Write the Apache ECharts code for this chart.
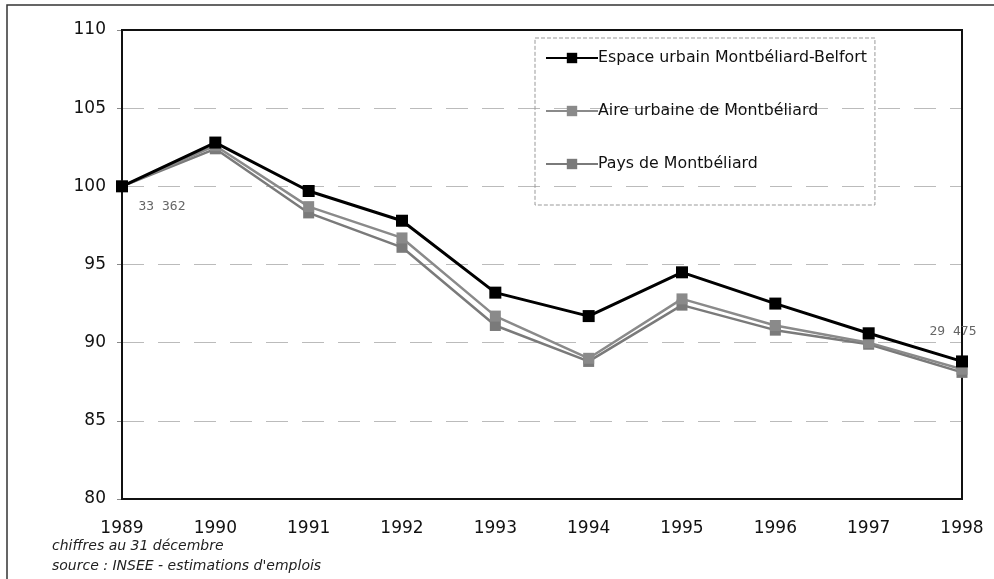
<!DOCTYPE html>
<html>
<head>
    <meta charset="utf-8">
    <title>Emploi - Montbéliard</title>
    <script src="https://cdn.jsdelivr.net/npm/echarts@6/dist/echarts.min.js"></script>
    <style>
        html, body { margin: 0; padding: 0; background: #fff; }
        #chart1 { width: 994px; height: 579px; }
    </style>
</head>
<body>
<div id="chart1"></div>
<script type="text/javascript">
    // données (indice base 100 en 1989)
    var years = ['1989', '1990', '1991', '1992', '1993', '1994', '1995', '1996', '1997', '1998'];
    var espaceUrbain = [100, 102.8, 99.7, 97.8, 93.2, 91.7, 94.5, 92.5, 90.6, 88.8];
    var aireUrbaine = [100, 102.6, 98.7, 96.7, 91.7, 89.0, 92.8, 91.1, 90.0, 88.3];
    var paysMontbeliard = [100, 102.4, 98.3, 96.1, 91.1, 88.8, 92.4, 90.8, 89.9, 88.1];
    var yTicks = { min: 80, max: 110, interval: 5 };
    var labelDebut = '33 362';
    var labelFin = '29 475';

    var myChart = echarts.init(document.getElementById('chart1'));

    var font = 'DejaVu Sans';

    // étiquettes des effectifs sur la première série
    var espaceData = espaceUrbain.map(function (v, i) {
        if (i === 0) {
            return { value: v, label: { show: true, formatter: labelDebut, position: 'bottom', offset: [40, 3] } };
        }
        if (i === espaceUrbain.length - 1) {
            return { value: v, label: { show: true, formatter: labelFin, position: 'top', offset: [-9, -12] } };
        }
        return v;
    });

    var option = {
        backgroundColor: '#fff',
        animation: false,
        grid: { left: 122, right: 32, top: 30, bottom: 80 },
        legend: {
            orient: 'vertical',
            left: 535,
            top: 38,
            padding: [12, 8, 33, 10],
            itemGap: 37,
            itemWidth: 52,
            itemHeight: 13,
            borderColor: '#999',
            borderWidth: 1,
            borderType: 'dashed',
            textStyle: { fontFamily: font, fontSize: 15.8, color: '#111', padding: [0, 0, 0, -5] },
            data: ['Espace urbain Montbéliard-Belfort', 'Aire urbaine de Montbéliard', 'Pays de Montbéliard']
        },
        xAxis: {
            type: 'category',
            data: years,
            boundaryGap: false,
            axisLine: { lineStyle: { color: '#111', width: 2 } },
            axisTick: { show: false },
            axisLabel: { color: '#111', fontFamily: font, fontSize: 17, margin: 21 },
            splitLine: { show: false }
        },
        yAxis: {
            type: 'value',
            min: yTicks.min,
            max: yTicks.max,
            interval: yTicks.interval,
            axisLine: { show: true, lineStyle: { color: '#111', width: 2 } },
            axisTick: { show: true, length: 5, lineStyle: { color: '#888', width: 1 } },
            axisLabel: { color: '#111', fontFamily: font, fontSize: 17, margin: 16 },
            splitLine: { show: true, lineStyle: { color: '#bbb', width: 1, type: [22, 14] } }
        },
        graphic: [
            {
                type: 'polyline',
                shape: { points: [[7, 579], [7, 5], [994, 5]] },
                style: { stroke: '#333', lineWidth: 1.5, fill: null }
            },
            {
                type: 'rect',
                shape: { x: 122, y: 30, width: 840, height: 469 },
                style: { stroke: '#111', lineWidth: 2, fill: null },
                z: 1
            },
            {
                type: 'text',
                left: 52,
                top: 536,
                style: {
                    text: 'chiffres au 31 décembre\nsource : INSEE - estimations d\'emplois',
                    font: 'italic 14px "DejaVu Sans"',
                    lineHeight: 20,
                    fill: '#222'
                }
            }
        ],
        series: [
            {
                name: 'Espace urbain Montbéliard-Belfort',
                type: 'line',
                data: espaceData,
                symbol: 'rect',
                symbolSize: 12,
                z: 5,
                lineStyle: { color: '#000', width: 3 },
                itemStyle: { color: '#000' },
                label: { color: '#666', fontFamily: 'DejaVu Sans Mono', fontSize: 13 }
            },
            {
                name: 'Aire urbaine de Montbéliard',
                type: 'line',
                data: aireUrbaine,
                symbol: 'rect',
                symbolSize: 11,
                z: 4,
                lineStyle: { color: '#8a8a8a', width: 2.5 },
                itemStyle: { color: '#8a8a8a' }
            },
            {
                name: 'Pays de Montbéliard',
                type: 'line',
                data: paysMontbeliard,
                symbol: 'rect',
                symbolSize: 11,
                z: 3,
                lineStyle: { color: '#7a7a7a', width: 2.5 },
                itemStyle: { color: '#7a7a7a' }
            }
        ]
    };

    myChart.setOption(option);
</script>
</body>
</html>
